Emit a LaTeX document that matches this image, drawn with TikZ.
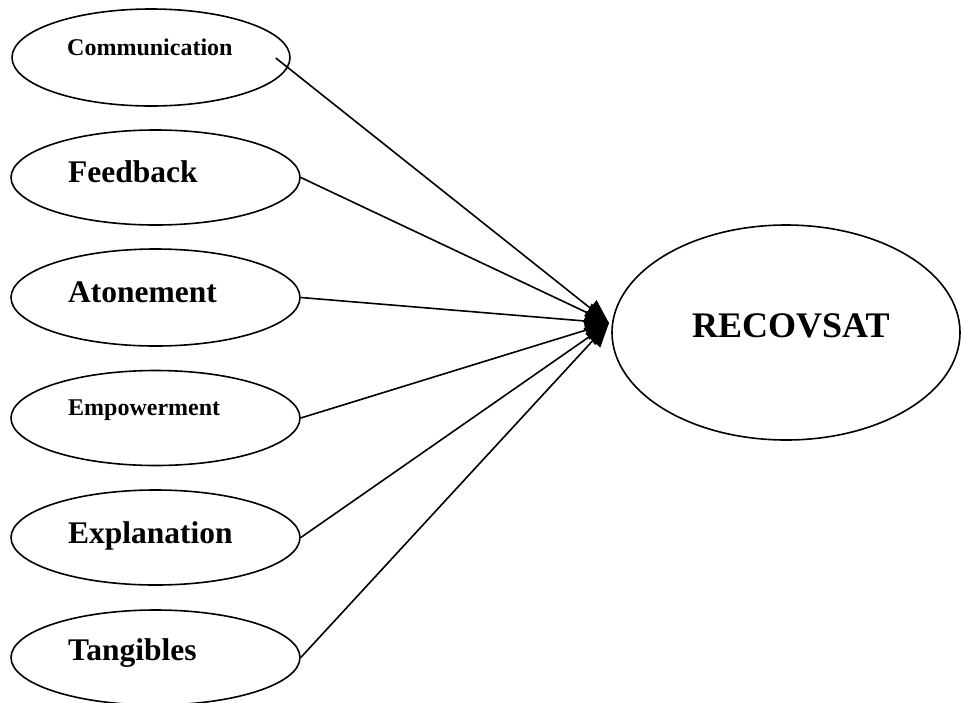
\documentclass[tikz,border=0pt]{standalone}
\usepackage{fontspec}
\setmainfont{Liberation Serif}
\usetikzlibrary{shapes.geometric,arrows.meta}
\begin{document}
\begin{tikzpicture}[x=1pt,y=-1pt,
  oval/.style={draw,ellipse,line width=1.6pt,inner sep=0pt},
  bigtxt/.style={anchor=base west,inner sep=0pt,font=\bfseries\fontsize{31.5}{36}\selectfont},
  smalltxt/.style={anchor=base west,inner sep=0pt,font=\bfseries\fontsize{24}{28}\selectfont},
  hugetxt/.style={anchor=base west,inner sep=0pt,font=\bfseries\fontsize{36}{42}\selectfont},
  link/.style={line width=1.6pt,-{Triangle[length=24pt,width=20pt]}}]
\useasboundingbox (0,0) rectangle (961,702);

% factor ellipses
\node[oval,minimum width=278pt,minimum height=97pt] (comm) at (151,57.5) {};
\node[oval,minimum width=289pt,minimum height=95pt] (feed) at (155.5,177.5) {};
\node[oval,minimum width=289pt,minimum height=97pt] (aton) at (155.5,297.5) {};
\node[oval,minimum width=289pt,minimum height=95pt] (empo) at (155.5,418) {};
\node[oval,minimum width=289pt,minimum height=95pt] (expl) at (155.5,537.5) {};
\node[oval,minimum width=289pt,minimum height=95pt] (tang) at (155.5,657.5) {};

% outcome ellipse
\node[oval,minimum width=348pt,minimum height=215pt] (reco) at (786,332.5) {};

% labels
\node[smalltxt] (tcomm) at (67,55) {Communication};
\node[bigtxt] (tfeed) at (68,182) {Feedback};
\node[bigtxt] (taton) at (68,302) {Atonement};
\node[smalltxt] (tempo) at (68,415) {Empowerment};
\node[bigtxt] (texpl) at (68,543) {Explanation};
\node[bigtxt] (ttang) at (68,660) {Tangibles};
\node[hugetxt] (treco) at (692,337) {RECOVSAT};

% converging paths
\coordinate (hub) at (609,323);
\draw[link] ([xshift=-15pt,yshift=-0.5pt]comm.east) -- (hub);
\draw[link] (feed.east) -- (hub);
\draw[link] (aton.east) -- (hub);
\draw[link] (empo.east) -- (hub);
\draw[link] (expl.east) -- (hub);
\draw[link] (tang.east) -- (hub);
\end{tikzpicture}
\end{document}
